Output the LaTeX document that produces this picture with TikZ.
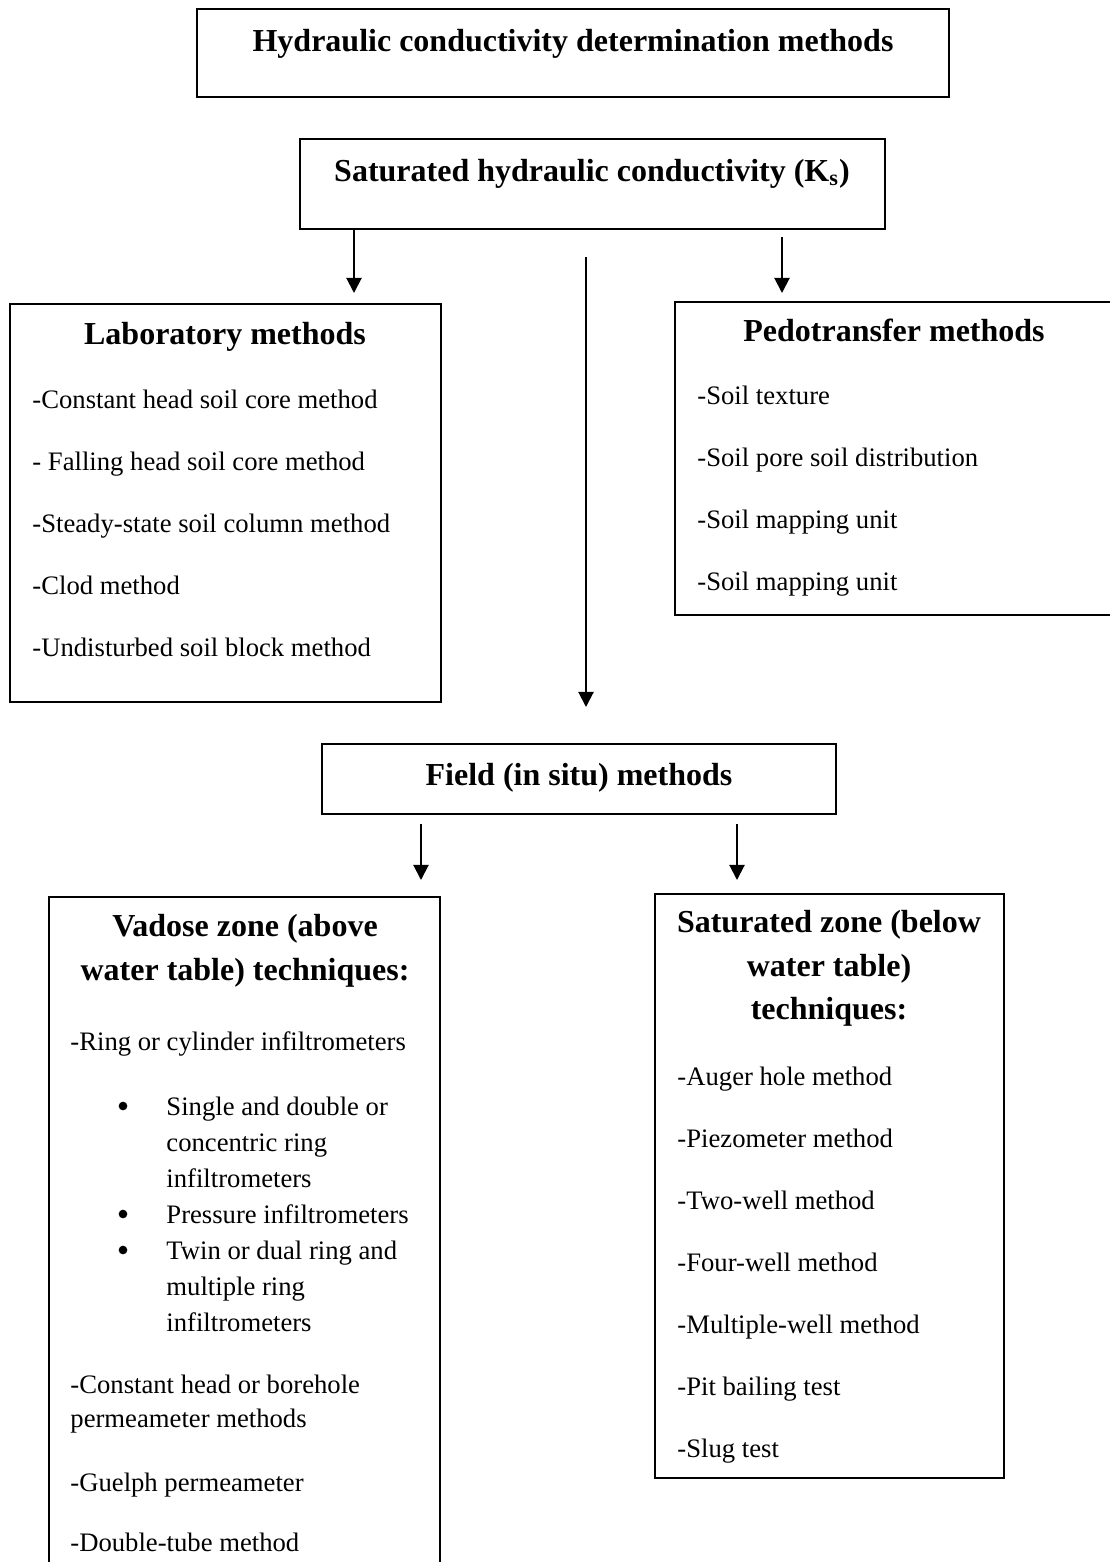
\documentclass[tikz,border=0pt]{standalone}
\usepackage{fontspec}
\setmainfont{Liberation Serif}
\usetikzlibrary{arrows.meta,fit}

\begin{document}
\begin{tikzpicture}[x=0.45pt,y=-0.45pt,
  box/.style={draw,line width=0.8pt,inner sep=0pt},
  head/.style={font=\fontsize{14.4}{17}\selectfont\bfseries,anchor=mid,inner sep=0pt},
  item/.style={font=\fontsize{12}{14}\selectfont,anchor=mid west,inner sep=0pt},
  dot/.style={circle,fill,inner sep=0pt,minimum size=3.9pt},
  arr/.style={line width=0.9pt,-{Triangle[length=6.8pt,width=6.8pt]}}]
\useasboundingbox (0,0) rectangle (1110,1562);
\path[clip] (0,0) rectangle (1110,1562);
% boxes
\node[box,fit={(197,9) (949,97)}] (title) {};
\node[box,fit={(300,139) (885,229)}] (ks) {};
\node[box,fit={(10,304) (441,702)}] (lab) {};
\node[box,fit={(675,302) (1114,615)}] (pedo) {};
\node[box,fit={(322,744) (836,814)}] (field) {};
\node[box,fit={(49,897) (440,1620)}] (vadose) {};
\node[box,fit={(655,894) (1004,1478)}] (satzone) {};
% headings
\node[head] (titletxt) at (573,46) {Hydraulic conductivity determination methods};
\node[head] (kstxt) at (592,176) {Saturated hydraulic conductivity (K\textsubscript{s})};
\node[head] (labtxt) at (225,339) {Laboratory methods};
\node[head] (pedotxt) at (894,336) {Pedotransfer methods};
\node[head] (fieldtxt) at (579,780) {Field (in situ) methods};
\node[head] (vad1) at (245,931) {Vadose zone (above};
\node[head] (vad2) at (245,975) {water table) techniques:};
\node[head] (sz1) at (829,927) {Saturated zone (below};
\node[head] (sz2) at (829,971) {water table)};
\node[head] (sz3) at (829,1014) {techniques:};
% lists
\foreach \t [count=\i] in {-Constant head soil core method, - Falling head soil core method,
  -Steady-state soil column method, -Clod method, -Undisturbed soil block method}
  \node[item] (lab\i) at (32,{403+62*(\i-1)}) {\t};
\foreach \t [count=\i] in {-Soil texture, -Soil pore soil distribution,
  -Soil mapping unit, -Soil mapping unit}
  \node[item] (pedo\i) at (697,{399+62*(\i-1)}) {\t};
\foreach \t [count=\i] in {-Auger hole method, -Piezometer method, -Two-well method,
  -Four-well method, -Multiple-well method, -Pit bailing test, -Slug test}
  \node[item] (sz\i) at (677,{1080+62*(\i-1)}) {\t};
\node[item] (v1) at (70,1045) {-Ring or cylinder infiltrometers};
\foreach \t [count=\i] in {Single and double or, concentric ring, infiltrometers,
  Pressure infiltrometers, Twin or dual ring and, multiple ring, infiltrometers}
  \node[item] (ring\i) at (166,{1110+36*(\i-1)}) {\t};
\foreach \i in {1,4,5}
  \node[dot] (dot\i) at (123,{1106+36*(\i-1)}) {};
\node[item] (v2) at (70,1388) {-Constant head or borehole};
\node[item] (v3) at (70,1422) {permeameter methods};
\node[item] (v4) at (70,1486) {-Guelph permeameter};
\node[item] (v5) at (70,1546) {-Double-tube method};
% arrows
\coordinate (labin) at (354,293);
\coordinate (pedoout) at (782,237);
\coordinate (pedoin) at (782,293);
\coordinate (fieldout) at (586,257);
\coordinate (fieldin) at (586,707);
\coordinate (vadout) at (421,824);
\coordinate (vadin) at (421,880);
\coordinate (satout) at (737,824);
\coordinate (satin) at (737,880);
\draw[arr] (ks.south -| labin) -- (labin);
\draw[arr] (pedoout) -- (pedoin);
\draw[arr] (fieldout) -- (fieldin);
\draw[arr] (vadout) -- (vadin);
\draw[arr] (satout) -- (satin);
\end{tikzpicture}
\end{document}
